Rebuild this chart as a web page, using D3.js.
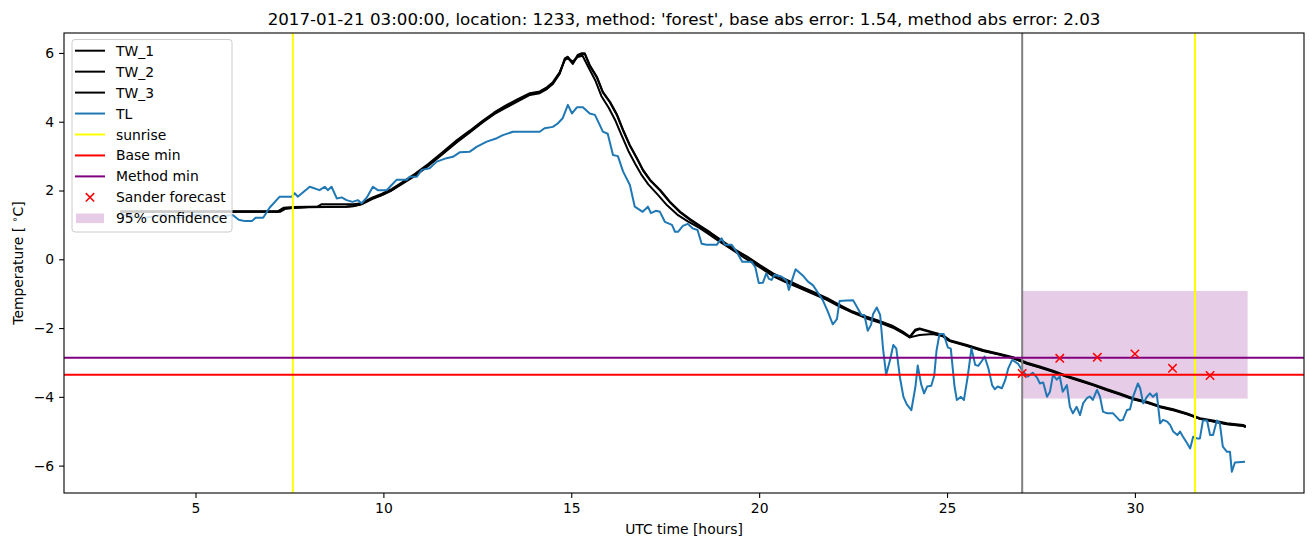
<!DOCTYPE html>
<html><head><meta charset="utf-8">
<script src="https://cdn.jsdelivr.net/npm/d3@7"></script>
<style>body{margin:0;background:#fff} text{font-family:"DejaVu Sans",sans-serif;fill:#000}</style>
</head><body><svg id="chart" width="1313" height="547"></svg>
<script>
// ---------------- data ----------------
const titleText = "2017-01-21 03:00:00, location: 1233, method: 'forest', base abs error: 1.54, method abs error: 2.03";
const xTicks = [5, 10, 15, 20, 25, 30];
const yTicks = [-6, -4, -2, 0, 2, 4, 6];
const sunriseHours = [7.59, 31.6];
const forecastStart = 27;
const baseMin = -3.36;
const methodMin = -2.86;
const sanderHours = [27, 28, 29, 30, 31, 32];
const sanderTemp = [-3.32, -2.88, -2.85, -2.75, -3.17, -3.38];
const confidence = [27, 33, -4.05, -0.92]; // hour start, hour end, low, high

const tw1 = [[3.0,1.38],[4.0,1.38],[5.0,1.38],[6.0,1.38],[7.0,1.38],[7.2,1.38],[7.35,1.48],[7.6,1.50],[8.0,1.52],[8.5,1.53],[9.0,1.53],[9.2,1.55],[9.42,1.61],[9.7,1.77],[9.95,1.87],[10.22,2.01],[10.5,2.21],[10.85,2.45],[11.2,2.74],[11.58,3.08],[11.95,3.42],[12.3,3.71],[12.64,4.0],[12.95,4.24],[13.25,4.42],[13.55,4.60],[13.9,4.80],[14.16,4.85],[14.35,4.97],[14.51,5.12],[14.69,5.41],[14.83,5.84],[14.91,5.89],[15.04,5.70],[15.17,5.94],[15.28,5.99],[15.36,5.99],[15.49,5.65],[15.68,5.31],[15.84,4.87],[16.03,4.58],[16.22,4.20],[16.38,3.76],[16.56,3.32],[16.75,2.94],[16.91,2.60],[17.1,2.31],[17.37,2.01],[17.63,1.67],[17.9,1.38],[18.17,1.16],[18.43,0.97],[18.7,0.78],[18.96,0.58],[19.3,0.32],[19.68,0.08],[20.02,-0.17],[20.37,-0.41],[20.74,-0.60],[21.09,-0.78],[21.43,-0.94],[21.81,-1.13],[22.15,-1.33],[22.49,-1.52],[22.86,-1.67],[23.2,-1.79],[23.56,-1.94],[23.82,-2.10],[24.01,-2.25],[24.15,-2.05],[24.27,-2.01],[24.62,-2.12],[24.89,-2.20],[25.07,-2.35],[25.53,-2.49],[25.96,-2.64],[26.41,-2.75],[26.76,-2.85],[27.13,-3.01],[27.47,-3.12],[27.82,-3.24],[28.19,-3.39],[28.54,-3.51],[28.88,-3.63],[29.26,-3.78],[29.6,-3.90],[29.95,-4.04],[30.32,-4.14],[30.67,-4.27],[31.02,-4.36],[31.39,-4.48],[31.73,-4.62],[32.08,-4.69],[32.45,-4.77],[32.88,-4.82],[32.95,-4.85]];
const tw2 = [[3.0,1.40],[4.0,1.40],[5.0,1.40],[6.0,1.40],[7.0,1.40],[7.2,1.40],[7.35,1.50],[7.6,1.52],[8.0,1.53],[8.25,1.53],[8.35,1.60],[9.2,1.60],[9.42,1.63],[9.7,1.79],[9.95,1.90],[10.22,2.04],[10.5,2.24],[10.85,2.49],[11.2,2.78],[11.58,3.12],[11.95,3.46],[12.3,3.74],[12.64,4.03],[12.95,4.27],[13.25,4.47],[13.55,4.64],[13.9,4.83],[14.16,4.88],[14.35,5.0],[14.51,5.15],[14.69,5.44],[14.83,5.80],[14.91,5.84],[15.04,5.75],[15.17,5.88],[15.3,5.92],[15.45,5.60],[15.64,5.20],[15.8,4.75],[16.0,4.40],[16.18,4.02],[16.34,3.60],[16.52,3.15],[16.7,2.78],[16.86,2.47],[17.05,2.18],[17.3,1.88],[17.55,1.57],[17.82,1.30],[18.1,1.10],[18.4,0.92],[18.65,0.74],[18.9,0.55],[19.25,0.30],[19.6,0.05],[20.0,-0.22],[20.35,-0.48],[20.7,-0.66],[21.05,-0.82],[21.4,-0.99],[21.8,-1.18],[22.15,-1.38],[22.5,-1.56],[22.86,-1.72],[23.2,-1.84],[23.56,-1.99],[23.82,-2.15],[24.01,-2.27],[24.27,-2.20],[24.62,-2.17],[24.89,-2.24],[25.07,-2.38],[25.53,-2.52],[25.96,-2.67],[26.41,-2.78],[26.76,-2.88],[27.13,-3.04],[27.47,-3.15],[27.82,-3.27],[28.19,-3.42],[28.54,-3.54],[28.88,-3.66],[29.26,-3.81],[29.6,-3.93],[29.95,-4.07],[30.32,-4.17],[30.67,-4.30],[31.02,-4.39],[31.39,-4.51],[31.73,-4.64],[32.08,-4.72],[32.45,-4.80],[32.88,-4.85],[32.95,-4.88]];
const tw3 = [[3.0,1.38],[4.0,1.38],[5.0,1.38],[6.0,1.38],[7.0,1.38],[7.25,1.38],[7.4,1.47],[7.6,1.49],[8.0,1.51],[8.5,1.52],[9.0,1.53],[9.2,1.54],[9.42,1.60],[9.7,1.75],[9.95,1.86],[10.22,2.0],[10.5,2.19],[10.85,2.43],[11.2,2.72],[11.58,3.06],[11.95,3.40],[12.3,3.69],[12.64,3.98],[12.95,4.22],[13.25,4.40],[13.55,4.58],[13.9,4.78],[14.16,4.83],[14.35,4.95],[14.51,5.10],[14.69,5.39],[14.83,5.82],[14.91,5.86],[15.04,5.68],[15.17,5.91],[15.28,5.97],[15.36,5.97],[15.49,5.63],[15.68,5.29],[15.84,4.85],[16.03,4.56],[16.22,4.18],[16.38,3.74],[16.56,3.30],[16.75,2.92],[16.91,2.58],[17.1,2.29],[17.37,1.99],[17.63,1.65],[17.9,1.36],[18.17,1.14],[18.43,0.95],[18.7,0.76],[18.96,0.56],[19.3,0.30],[19.68,0.06],[20.02,-0.19],[20.37,-0.43],[20.74,-0.62],[21.09,-0.80],[21.43,-0.96],[21.81,-1.15],[22.15,-1.35],[22.49,-1.54],[22.86,-1.69],[23.2,-1.81],[23.56,-1.96],[23.82,-2.12],[24.01,-2.27],[24.15,-2.08],[24.27,-2.03],[24.62,-2.14],[24.89,-2.22],[25.07,-2.37],[25.53,-2.51],[25.96,-2.66],[26.41,-2.77],[26.76,-2.87],[27.13,-3.03],[27.47,-3.14],[27.82,-3.26],[28.19,-3.41],[28.54,-3.53],[28.88,-3.65],[29.26,-3.80],[29.6,-3.92],[29.95,-4.06],[30.32,-4.16],[30.67,-4.29],[31.02,-4.38],[31.39,-4.50],[31.73,-4.64],[32.08,-4.71],[32.45,-4.79],[32.88,-4.84],[32.95,-4.88]];

const tl = [[3.0,1.30],[3.3,1.25],[3.6,1.20],[3.9,1.25],[4.2,1.30],[4.5,1.20],[4.8,1.25],[5.1,1.30],[5.4,1.20],[5.7,1.25],[5.99,1.29],[6.15,1.15],[6.31,1.11],[6.5,1.11],[6.6,1.21],[6.8,1.21],[6.97,1.50],[7.24,1.82],[7.56,1.82],[7.64,1.92],[7.72,1.82],[8.04,2.11],[8.30,2.01],[8.44,2.11],[8.52,2.01],[8.62,2.11],[8.76,1.77],[8.89,1.80],[9.02,1.72],[9.18,1.67],[9.32,1.72],[9.42,1.63],[9.56,1.80],[9.72,2.11],[9.85,2.01],[10.09,2.01],[10.22,2.16],[10.35,2.31],[10.62,2.31],[10.70,2.40],[10.89,2.40],[11.02,2.60],[11.23,2.65],[11.42,2.84],[11.68,2.94],[11.85,2.98],[12.03,3.11],[12.30,3.13],[12.48,3.27],[12.75,3.42],[13.02,3.52],[13.18,3.61],[13.45,3.71],[14.16,3.71],[14.29,3.81],[14.51,3.85],[14.64,3.95],[14.77,4.10],[14.91,4.49],[15.02,4.24],[15.15,4.42],[15.31,4.42],[15.49,4.24],[15.63,4.20],[15.76,3.90],[15.84,3.71],[15.97,3.65],[16.11,3.03],[16.24,3.00],[16.38,2.55],[16.56,2.16],[16.69,1.53],[16.83,1.43],[16.9,1.38],[17.04,1.53],[17.12,1.34],[17.25,1.41],[17.36,1.38],[17.49,1.09],[17.68,1.00],[17.76,0.80],[17.84,0.80],[17.97,0.97],[18.1,1.03],[18.23,0.90],[18.36,0.85],[18.47,0.45],[18.6,0.42],[18.87,0.42],[19.0,0.61],[19.09,0.42],[19.27,0.42],[19.4,0.22],[19.55,-0.07],[19.8,-0.07],[19.9,-0.24],[19.99,-0.69],[20.1,-0.68],[20.19,-0.41],[20.26,-0.57],[20.33,-0.60],[20.41,-0.45],[20.6,-0.51],[20.73,-0.62],[20.79,-0.89],[20.97,-0.29],[21.16,-0.47],[21.3,-0.65],[21.43,-0.75],[21.57,-0.98],[21.69,-1.18],[21.82,-1.50],[21.96,-1.89],[22.07,-1.74],[22.14,-1.21],[22.33,-1.20],[22.5,-1.19],[22.6,-1.38],[22.72,-1.62],[22.8,-1.62],[22.89,-2.08],[22.98,-1.90],[23.03,-1.60],[23.13,-1.40],[23.22,-1.62],[23.3,-2.63],[23.38,-3.36],[23.49,-2.90],[23.57,-2.49],[23.65,-2.60],[23.75,-3.46],[23.84,-4.0],[23.93,-4.22],[24.05,-4.39],[24.16,-3.70],[24.22,-3.09],[24.31,-3.63],[24.39,-3.90],[24.47,-3.70],[24.58,-3.68],[24.66,-3.38],[24.72,-2.66],[24.8,-2.17],[24.91,-2.17],[25.02,-2.56],[25.1,-2.60],[25.2,-3.70],[25.26,-4.09],[25.37,-4.0],[25.45,-4.09],[25.55,-3.41],[25.65,-2.59],[25.75,-3.07],[25.83,-3.10],[25.93,-2.95],[26.0,-2.83],[26.1,-3.17],[26.2,-3.66],[26.27,-3.78],[26.35,-3.70],[26.46,-3.75],[26.55,-3.51],[26.63,-3.17],[26.73,-2.93],[26.8,-2.97],[26.9,-3.05],[27.02,-3.27],[27.15,-3.41],[27.28,-3.30],[27.4,-3.45],[27.47,-3.61],[27.56,-3.58],[27.66,-4.0],[27.74,-3.85],[27.82,-3.36],[27.92,-3.50],[28.0,-3.41],[28.08,-3.85],[28.19,-3.66],[28.27,-4.29],[28.35,-4.48],[28.45,-4.29],[28.54,-4.53],[28.62,-4.19],[28.72,-4.04],[28.8,-3.99],[28.88,-4.09],[28.99,-3.80],[29.07,-3.99],[29.15,-4.43],[29.26,-4.48],[29.42,-4.48],[29.6,-4.69],[29.68,-4.67],[29.79,-4.38],[29.87,-4.36],[29.95,-4.0],[30.08,-3.61],[30.14,-3.75],[30.22,-4.19],[30.32,-4.0],[30.4,-3.90],[30.48,-4.0],[30.58,-3.90],[30.67,-4.77],[30.75,-4.67],[30.86,-4.72],[30.94,-4.82],[31.02,-5.01],[31.13,-5.11],[31.2,-5.01],[31.28,-5.16],[31.39,-5.35],[31.47,-5.50],[31.55,-5.16],[31.65,-5.21],[31.73,-5.21],[31.81,-4.69],[31.92,-4.69],[32.0,-5.11],[32.08,-5.11],[32.18,-4.69],[32.26,-4.77],[32.34,-5.45],[32.45,-5.60],[32.53,-5.60],[32.58,-6.18],[32.66,-5.91],[32.93,-5.89]];

const legendLabels = ["TW_1","TW_2","TW_3","TL","sunrise","Base min","Method min","Sander forecast","95% confidence"];

// ---------------- drawing ----------------
const svg = d3.select("#chart");
const L = 64, R = 1304, T = 33, B = 493;
const x = d3.scaleLinear().domain([1.5, 34.5]).range([L, R]);
const y = d3.scaleLinear().domain([-6.796, 6.58]).range([B, T]);
const FS = 13.9;

svg.append("defs").append("clipPath").attr("id","clip")
  .append("rect").attr("x",L).attr("y",T).attr("width",R-L).attr("height",B-T);
const g = svg.append("g").attr("clip-path","url(#clip)");

// confidence band
g.append("rect").attr("x", x(confidence[0])).attr("width", x(confidence[1]) - x(confidence[0]))
  .attr("y", y(confidence[3])).attr("height", y(confidence[2]) - y(confidence[3]))
  .attr("fill","purple").attr("fill-opacity",0.2);

const line = d3.line().x(d => x(d[0])).y(d => y(d[1]));
[tw1, tw2, tw3].forEach(s => g.append("path").datum(s).attr("d", line)
  .attr("fill","none").attr("stroke","#000").attr("stroke-width",2).attr("stroke-linejoin","round"));
g.append("path").datum(tl).attr("d", line).attr("fill","none").attr("stroke","#1f77b4")
  .attr("stroke-width",2).attr("stroke-linejoin","round");

// sunrise
g.selectAll("line.sun").data(sunriseHours).enter().append("line")
  .attr("x1", d => x(d)).attr("x2", d => x(d)).attr("y1", T).attr("y2", B)
  .attr("stroke","#ffff00").attr("stroke-width",2);
// forecast start
g.append("line").attr("x1", x(forecastStart)).attr("x2", x(forecastStart)).attr("y1",T).attr("y2",B)
  .attr("stroke","#808080").attr("stroke-width",2);
// base/method min
g.append("line").attr("x1",L).attr("x2",R).attr("y1",y(baseMin)).attr("y2",y(baseMin))
  .attr("stroke","#ff0000").attr("stroke-width",2);
g.append("line").attr("x1",L).attr("x2",R).attr("y1",y(methodMin)).attr("y2",y(methodMin))
  .attr("stroke","#800080").attr("stroke-width",2);

// sander forecast markers
const ms = 4.2;
const mk = g.selectAll("g.mk").data(sanderHours.map((h,i)=>[h, sanderTemp[i]])).enter().append("g")
  .attr("transform", d => `translate(${x(d[0])},${y(d[1])})`);
mk.append("path").attr("d", `M${-ms},${-ms}L${ms},${ms}M${-ms},${ms}L${ms},${-ms}`)
  .attr("stroke","#ff0000").attr("stroke-width",1.5).attr("fill","none");

// axes
const xAxis = d3.axisBottom(x).tickValues(xTicks).tickSize(4.9).tickPadding(4.9).tickFormat(d3.format("d"));
const yAxis = d3.axisLeft(y).tickValues(yTicks).tickSize(4.9).tickPadding(4.9).tickFormat(d3.format("d"));
const gx = svg.append("g").attr("transform",`translate(0,${B})`).call(xAxis);
const gy = svg.append("g").attr("transform",`translate(${L},0)`).call(yAxis);
[gx, gy].forEach(a => {
  a.select(".domain").remove();
  a.selectAll(".tick line").attr("stroke","#000").attr("stroke-width",1.1);
  a.selectAll(".tick text").attr("font-size",FS).attr("font-family","DejaVu Sans").attr("fill","#000");
});
svg.append("rect").attr("x",L).attr("y",T).attr("width",R-L).attr("height",B-T)
  .attr("fill","none").attr("stroke","#000").attr("stroke-width",1.1);

// labels
svg.append("text").attr("x",(L+R)/2).attr("y",24.5).attr("text-anchor","middle")
  .attr("font-size",16.7).text(titleText);
svg.append("text").attr("x",(L+R)/2).attr("y",534).attr("text-anchor","middle")
  .attr("font-size",FS).text("UTC time [hours]");
const yl = svg.append("text").attr("transform",`translate(23,${(T+B)/2}) rotate(-90)`)
  .attr("text-anchor","middle").attr("font-size",FS);
yl.append("tspan").text("Temperature [ ");
yl.append("tspan").attr("dy",-5).attr("font-size",FS*0.7).text("\u2218");
yl.append("tspan").attr("dy",5).text("C]");

// legend
const lg = svg.append("g");
lg.append("rect").attr("x",72).attr("y",39.5).attr("width",160).attr("height",192.5).attr("rx",3)
  .attr("fill","#fff").attr("fill-opacity",0.8).attr("stroke","#cccccc").attr("stroke-width",1);
const rowY = i => 50.7 + i * 20.95;
const handleColors = ["#000","#000","#000","#1f77b4","#ffff00","#ff0000","#800080"];
handleColors.forEach((c,i) => lg.append("line").attr("x1",75).attr("x2",105)
  .attr("y1",rowY(i)).attr("y2",rowY(i)).attr("stroke",c).attr("stroke-width",2));
lg.append("path").attr("transform",`translate(90,${rowY(7)})`)
  .attr("d", `M${-ms},${-ms}L${ms},${ms}M${-ms},${ms}L${ms},${-ms}`)
  .attr("stroke","#ff0000").attr("stroke-width",1.5);
lg.append("rect").attr("x",76).attr("y",rowY(8)-4.8).attr("width",28).attr("height",9.6)
  .attr("fill","purple").attr("fill-opacity",0.2);
legendLabels.forEach((t,i) => lg.append("text").attr("x",116).attr("y",rowY(i)).attr("dy","0.36em")
  .attr("font-size",FS).text(t));
</script></body></html>
